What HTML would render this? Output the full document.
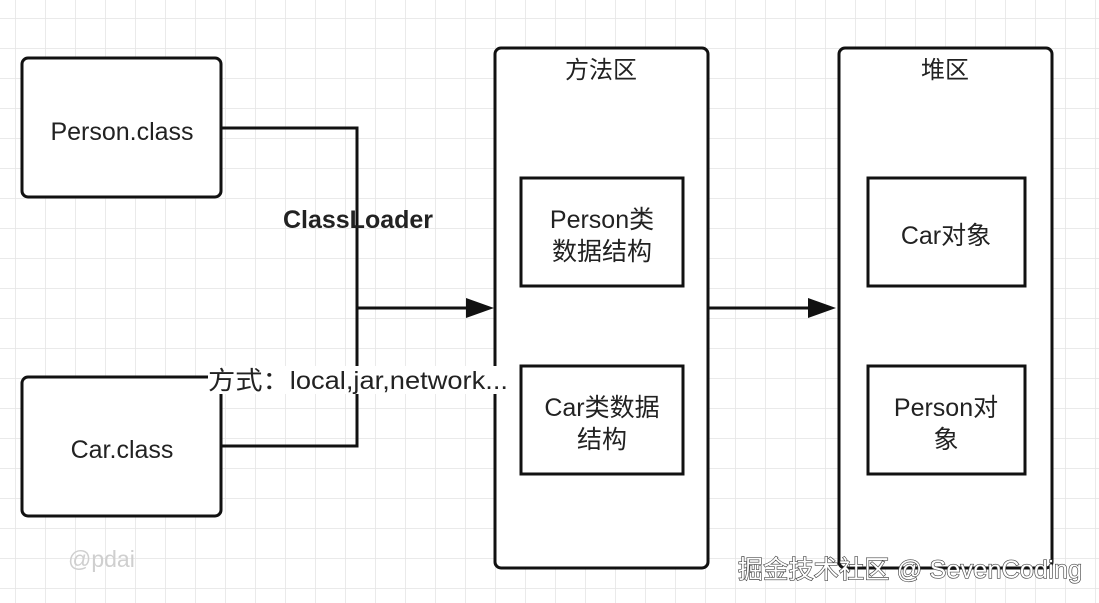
<!DOCTYPE html>
<html><head><meta charset="utf-8"><style>
body{margin:0;background:#fff}
svg{display:block}
text{font-family:"Liberation Sans","Noto Sans CJK SC",sans-serif;fill:#222;font-size:25px}
</style></head><body>
<svg width="1099" height="603" viewBox="0 0 1099 603">
<defs><pattern id="g" x="15" y="18" width="30" height="30" patternUnits="userSpaceOnUse"><path d="M0 0H30M0 0V30" stroke="#e4e4e4" stroke-width="1.5" fill="none"/></pattern></defs>
<rect width="1099" height="603" fill="url(#g)"/>
<g fill="#fff" stroke="#111" stroke-width="3">
<rect x="22" y="58" width="199" height="139" rx="6"/>
<rect x="22" y="377" width="199" height="139" rx="6"/>
<rect x="495" y="48" width="213" height="520" rx="6"/>
<rect x="839" y="48" width="213" height="520" rx="6"/>
<rect x="521" y="178" width="162" height="108"/>
<rect x="521" y="366" width="162" height="108"/>
<rect x="868" y="178" width="157" height="108"/>
<rect x="868" y="366" width="157" height="108"/>
</g>
<g stroke="#111" stroke-width="3" fill="none">
<path d="M221 128H357V446H221"/>
<path d="M357 308H470"/>
<path d="M708 308H812"/>
</g>
<polygon points="466,298 494,308 466,318" fill="#111"/>
<polygon points="808,298 836,308 808,318" fill="#111"/>
<g text-anchor="middle">
<text x="122" y="140">Person.class</text>
<text x="122" y="458">Car.class</text>
<text x="601" y="78" style="font-size:24px">方法区</text>
<text x="945" y="78" style="font-size:24px">堆区</text>
<text x="602" y="228">Person类</text>
<text x="602" y="260">数据结构</text>
<text x="602" y="416">Car类数据</text>
<text x="602" y="448">结构</text>
<text x="946" y="244">Car对象</text>
<text x="946" y="416">Person对</text>
<text x="946" y="448">象</text>
<text x="358" y="228" font-weight="bold" style="font-size:25px">ClassLoader</text>
</g>
<rect x="208" y="366" width="300" height="28" fill="#fff"/>
<text x="208" y="389" textLength="300" lengthAdjust="spacingAndGlyphs">方式：local,jar,network...</text>
<text x="68" y="567" style="fill:#cfcfcf;font-size:23px">@pdai</text>
<text x="738" y="578" textLength="344" style="fill:#fff;stroke:#444;stroke-width:1.3;font-size:25px;paint-order:stroke">掘金技术社区 @ SevenCoding</text>
</svg>
</body></html>
